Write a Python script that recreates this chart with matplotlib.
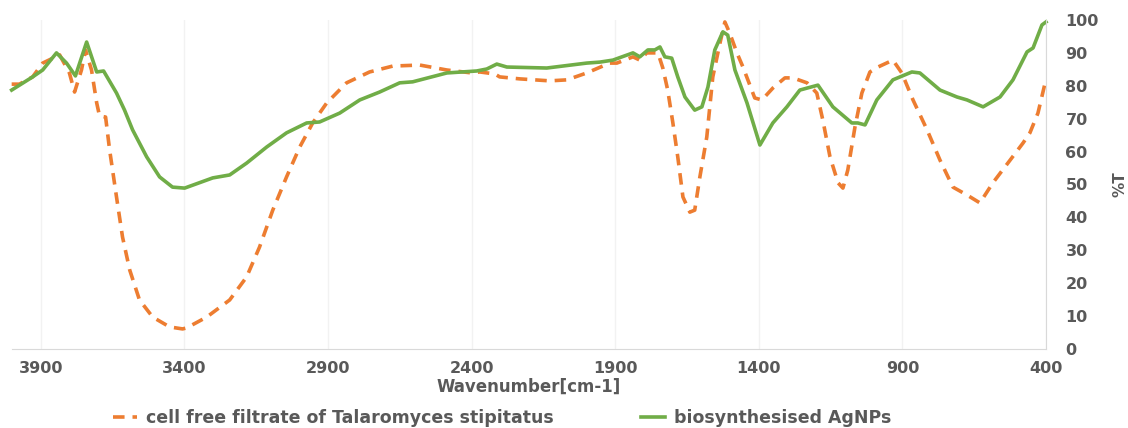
import matplotlib
matplotlib.use('Agg')
import matplotlib.pyplot as plt
import numpy as np

# FTIR spectra (wavenumber in cm-1, %T)
wn_filtrate = [4001, 3974, 3928, 3893, 3834, 3800, 3782, 3758, 3744, 3723, 3705, 3695,
               3674, 3660, 3636, 3615, 3590, 3556, 3510, 3451, 3406, 3392, 3322, 3242,
               3183, 3138, 3092, 3044, 2998, 2953, 2904, 2835, 2755, 2674, 2580, 2486,
               2399, 2371, 2319, 2302, 2232, 2128, 2068, 1999, 1919, 1894, 1838, 1814,
               1790, 1751, 1734, 1717, 1699, 1682, 1664, 1640, 1623, 1605, 1581, 1560,
               1535, 1518, 1501, 1476, 1455, 1431, 1414, 1389, 1351, 1309, 1281, 1232,
               1198, 1177, 1152, 1124, 1107, 1090, 1065, 1041, 1013, 985, 933, 902,
               863, 814, 769, 724, 675, 630, 585, 525, 480, 456, 428, 403]
t_filtrate = [80.5, 80.5, 82.7, 86.9, 89.4, 83.9, 78.1, 84.8, 90.9, 84.8, 74.8, 70.8,
              70.5, 60.5, 46.2, 34.0, 24.0, 14.9, 9.7, 6.7, 6.1, 6.4, 9.7, 14.9,
              21.9, 31.0, 42.2, 52.3, 61.4, 68.7, 74.8, 80.9, 84.2, 86.0, 86.3, 84.8,
              83.9, 84.2, 83.6, 82.7, 82.1, 81.5, 81.8, 83.9, 86.9, 86.9, 88.8, 87.8,
              90.0, 90.0, 85.4, 78.7, 68.7, 58.4, 46.2, 41.6, 42.2, 52.3, 64.4, 82.7,
              93.0, 99.4, 96.0, 90.0, 85.7, 80.2, 76.3, 75.7, 79.3, 82.4, 82.4, 80.9,
              77.8, 69.6, 58.4, 50.5, 48.9, 54.4, 67.5, 77.8, 84.2, 85.7, 87.8, 83.9,
              75.7, 66.6, 57.4, 49.2, 46.8, 44.4, 50.5, 57.4, 62.6, 65.7, 71.7, 80.9]

wn_agnp = [4001, 3928, 3893, 3845, 3810, 3779, 3740, 3705, 3681, 3636, 3608, 3580,
           3531, 3486, 3441, 3399, 3301, 3242, 3183, 3113, 3044, 2974, 2929, 2859,
           2789, 2720, 2650, 2605, 2486, 2382, 2347, 2312, 2277, 2138, 1999, 1953,
           1908, 1838, 1814, 1786, 1762, 1744, 1727, 1703, 1682, 1657, 1623, 1598,
           1577, 1553, 1525, 1508, 1483, 1441, 1396, 1351, 1302, 1257, 1194, 1142,
           1076, 1055, 1030, 989, 933, 867, 839, 769, 710, 675, 619, 560,
           515, 466, 445, 414, 400]
t_agnp = [78.7, 82.7, 84.8, 90.0, 86.9, 83.0, 93.3, 84.2, 84.5, 77.8, 72.6, 66.6,
          58.4, 52.3, 49.2, 48.9, 52.0, 52.9, 56.5, 61.4, 65.7, 68.7, 69.0, 71.7,
          75.7, 78.1, 80.9, 81.2, 83.9, 84.5, 85.1, 86.6, 85.7, 85.4, 86.9, 87.2,
          87.8, 90.0, 88.8, 90.9, 90.9, 91.8, 88.8, 88.4, 82.7, 76.6, 72.6, 73.6,
          79.6, 90.9, 96.4, 95.4, 84.8, 74.8, 62.0, 68.7, 73.6, 78.7, 80.2, 73.6,
          68.7, 68.7, 68.1, 75.7, 81.8, 84.2, 83.9, 78.7, 76.6, 75.7, 73.6, 76.6,
          81.8, 90.3, 91.5, 98.5, 99.4]

x_ticks = [3900, 3400, 2900, 2400, 1900, 1400, 900, 400]
y_ticks = list(range(0, 101, 10))

grey = '#595959'
plt.rcParams['font.family'] = 'DejaVu Sans'
plt.rcParams['font.weight'] = 'bold'
plt.rcParams['lines.solid_joinstyle'] = 'round'
plt.rcParams['lines.dash_joinstyle'] = 'round'

fig = plt.figure(figsize=(11.28, 4.28), dpi=100)
ax = fig.add_axes([0.0106, 0.1846, 0.9167, 0.7687])

ax.plot(wn_filtrate, t_filtrate, color='#ED7D31', lw=2.6, dashes=(3.2, 2.2),
        label='cell free filtrate of Talaromyces stipitatus', clip_on=False)
ax.plot(wn_agnp, t_agnp, color='#70AD47', lw=2.6,
        label='biosynthesised AgNPs', clip_on=False)

ax.set_xlim(4000, 400)
ax.set_ylim(0, 100)
ax.set_xticks(x_ticks)
ax.set_yticks(y_ticks)
ax.yaxis.tick_right()
ax.yaxis.set_label_position('right')
ax.tick_params(axis='both', length=0, labelsize=11.5, labelcolor=grey)
ax.tick_params(axis='x', pad=9)
ax.tick_params(axis='y', pad=14)
for lab in ax.get_yticklabels():
    lab.set_horizontalalignment('left')
ax.grid(axis='x', color='#f2f2f2', lw=1)
ax.set_axisbelow(True)

for s in ['top', 'left']:
    ax.spines[s].set_visible(False)
ax.spines['bottom'].set_color('#d9d9d9')
ax.spines['right'].set_color('#d9d9d9')

ax.set_xlabel('Wavenumber[cm-1]', fontsize=12, color=grey, fontweight='bold', labelpad=1)
ax.set_ylabel('%T', fontsize=11, color=grey, fontweight='bold', labelpad=10)

fig.legend(loc='lower center', bbox_to_anchor=(0.445, -0.035), ncol=2, frameon=False,
           fontsize=12.5, handlelength=1.4, handletextpad=0.5, columnspacing=5,
           labelcolor=grey)

plt.savefig('out.png', dpi=100)
